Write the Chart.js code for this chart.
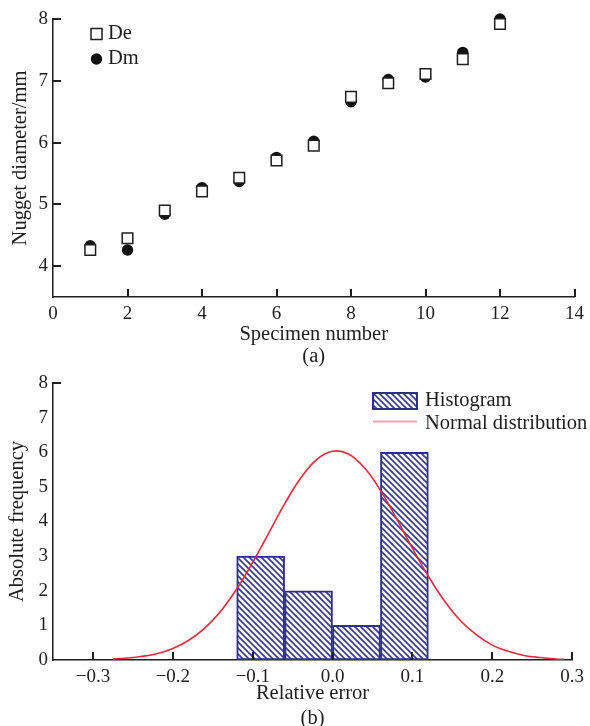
<!DOCTYPE html>
<html><head><meta charset="utf-8">
<script src="https://cdn.jsdelivr.net/npm/chart.js@4.4.0/dist/chart.umd.min.js"></script>
<style>
html,body{margin:0;padding:0;background:#fff;width:590px;height:726px;overflow:hidden;}
#c1{position:absolute;left:0;top:0;}
#c2{position:absolute;left:0;top:362px;}
</style></head><body>
<canvas id="c1" width="590" height="370"></canvas>
<canvas id="c2" width="590" height="380"></canvas>
<script>
// ---- data (a) ----
const specimens = [1,2,3,4,5,6,7,8,9,10,11,12];
const deValues  = [4.26,4.45,4.90,5.21,5.43,5.71,5.95,6.74,6.96,7.11,7.35,7.92];
const dmValues  = [4.33,4.26,4.84,5.27,5.37,5.76,6.02,6.66,7.02,7.06,7.46,8.00];
const xTicksA = [0,2,4,6,8,10,12,14];
const yTicksA = [4,5,6,7,8];
// ---- data (b) ----
const binCenters = [-0.09,-0.03,0.03,0.09];
const binCounts  = [3,2,1,6];
const curveX = [-0.275,-0.26,-0.24,-0.22,-0.20,-0.18,-0.16,-0.14,-0.12,-0.10,-0.08,-0.06,-0.04,-0.02,0.00,0.02,0.04,0.06,0.08,0.10,0.12,0.14,0.16,0.18,0.20,0.22,0.24,0.26,0.28,0.29];
const curveY = [0.03,0.05,0.10,0.18,0.33,0.57,0.92,1.41,2.05,2.82,3.66,4.51,5.25,5.79,6.03,5.95,5.55,4.90,4.09,3.23,2.42,1.71,1.14,0.73,0.43,0.25,0.13,0.07,0.03,0.02];
const xTicksB = [-0.3,-0.2,-0.1,0.0,0.1,0.2,0.3];
const yTicksB = [0,1,2,3,4,5,6,7,8];

const FONT = "'Liberation Serif','Times New Roman',serif";
const INK = '#1e1e1e';
Chart.defaults.font.family = FONT;
Chart.defaults.color = INK;

function tickMarks(xs, ys, len){
  return { id:'tickMarks', afterDraw(chart){
    const {ctx, chartArea:a} = chart; const sx = chart.scales.x, sy = chart.scales.y;
    ctx.save(); ctx.strokeStyle = INK; ctx.lineWidth = 2; ctx.beginPath();
    xs.forEach(v=>{ const p = Math.round(sx.getPixelForValue(v)); ctx.moveTo(p, a.bottom); ctx.lineTo(p, a.bottom - len); });
    ys.forEach(v=>{ const p = Math.round(sy.getPixelForValue(v)); ctx.moveTo(a.left, p); ctx.lineTo(a.left + len, p); });
    ctx.stroke(); ctx.restore();
  }};
}

function fixedScale(w, h){
  return function(scale){ if (w != null) scale.width = w; if (h != null) scale.height = h; };
}

// ---- chart (a) ----
const legendA = { id:'legendA', afterDraw(chart){
  const ctx = chart.ctx;
  ctx.save();
  ctx.fillStyle = '#fff'; ctx.strokeStyle = INK; ctx.lineWidth = 1.5;
  ctx.fillRect(91, 28.5, 11, 11); ctx.strokeRect(91, 28.5, 11, 11);
  ctx.fillStyle = '#111'; ctx.beginPath(); ctx.arc(96.5, 59, 5.7, 0, Math.PI*2); ctx.fill();
  ctx.fillStyle = INK; ctx.font = "20.5px " + FONT; ctx.textBaseline = 'middle'; ctx.textAlign = 'left';
  ctx.fillText('De', 108, 34); ctx.fillText('Dm', 108, 59);
  ctx.restore();
}};

new Chart(document.getElementById('c1'), {
  type: 'scatter',
  data: { datasets: [
    { label:'De', data: specimens.map((x,i)=>({x, y: deValues[i]})), pointStyle:'rect', pointRadius:7.5, pointBorderWidth:1.5, borderColor:INK, backgroundColor:'#fff', order:0, clip:false },
    { label:'Dm', data: specimens.map((x,i)=>({x, y: dmValues[i]})), pointStyle:'circle', pointRadius:5.7, pointBorderWidth:0, borderColor:'#111', backgroundColor:'#111', order:1, clip:false }
  ]},
  options: {
    responsive:false, animation:false, devicePixelRatio:1,
    layout:{ padding:{ top:19, right:14, left:0, bottom:0 } },
    plugins:{ legend:{display:false}, tooltip:{enabled:false} },
    scales:{
      x:{ type:'linear', min:0, max:14,
          afterBuildTicks: s => { s.ticks = xTicksA.map(v=>({value:v})); },
          afterFit: fixedScale(null, 73),
          grid:{display:false, drawTicks:false}, border:{display:true, color:INK, width:1.5},
          ticks:{ padding:6, font:{size:19}, color:INK, maxRotation:0, autoSkip:false },
          title:{ display:true, text:['Specimen number','(a)'], font:{size:20.5, lineHeight:1.1}, color:INK, padding:{top:0,bottom:1.75} } },
      y:{ type:'linear', min:3.5, max:8,
          afterBuildTicks: s => { s.ticks = yTicksA.map(v=>({value:v})); },
          afterFit: fixedScale(53, null),
          grid:{display:false, drawTicks:false}, border:{display:true, color:INK, width:1.5},
          ticks:{ padding:5, font:{size:19}, color:INK, autoSkip:false },
          title:{ display:true, text:'Nugget diameter/mm', font:{size:20.5, lineHeight:1.15}, color:INK, padding:{top:8.5,bottom:0} } }
    }
  },
  plugins:[ tickMarks(xTicksA.slice(1), yTicksA, 8), legendA ]
});

// ---- chart (b) ----
function hatchPattern(){
  const c = document.createElement('canvas'); c.width = 6; c.height = 6;
  const g = c.getContext('2d');
  g.fillStyle = '#fff'; g.fillRect(0,0,6,6);
  g.strokeStyle = '#3a3aa4'; g.lineWidth = 1.7; g.beginPath();
  g.moveTo(-1,-1); g.lineTo(7,7);
  g.moveTo(-1,5); g.lineTo(1,7);
  g.moveTo(5,-1); g.lineTo(7,1);
  g.stroke();
  return g.createPattern(c, 'repeat');
}
const hatch = hatchPattern();
const BLUE = '#2c2c96';
const RED = '#e8283c';

const legendB = { id:'legendB', afterDraw(chart){
  const ctx = chart.ctx;
  ctx.save();
  ctx.fillStyle = hatch; ctx.fillRect(373, 31, 44, 16);
  ctx.strokeStyle = BLUE; ctx.lineWidth = 2; ctx.strokeRect(373, 31, 44, 16);
  ctx.strokeStyle = '#f4a0b2'; ctx.lineWidth = 2; ctx.beginPath(); ctx.moveTo(373, 59.5); ctx.lineTo(417, 59.5); ctx.stroke();
  ctx.fillStyle = INK; ctx.font = "20.5px " + FONT; ctx.textBaseline = 'middle'; ctx.textAlign = 'left';
  ctx.fillText('Histogram', 425, 39); ctx.fillText('Normal distribution', 425, 62);
  ctx.restore();
}};

new Chart(document.getElementById('c2'), {
  type: 'bar',
  data: { datasets: [
    { type:'line', label:'Normal distribution', data: curveX.map((x,i)=>({x, y: curveY[i]})), borderColor:RED, borderWidth:1.6, pointRadius:0, fill:false, tension:0.4, order:0 },
    { type:'bar', label:'Histogram', data: binCenters.map((x,i)=>({x, y: binCounts[i]})), backgroundColor:hatch, borderColor:BLUE, borderWidth:2, borderSkipped:false, barPercentage:1, categoryPercentage:1, grouped:false, order:1 }
  ]},
  options: {
    responsive:false, animation:false, devicePixelRatio:1,
    layout:{ padding:{ top:21, right:14, left:0, bottom:0 } },
    plugins:{ legend:{display:false}, tooltip:{enabled:false} },
    scales:{
      x:{ type:'linear', min:-0.35, max:0.3, offset:false,
          afterBuildTicks: s => { s.ticks = xTicksB.map(v=>({value:v})); },
          afterFit: fixedScale(null, 82),
          grid:{display:false, drawTicks:false}, border:{display:true, color:INK, width:1.5},
          ticks:{ padding:6, font:{size:19}, color:INK, maxRotation:0, autoSkip:false,
                  callback: v => (Math.abs(v) < 1e-9 ? '0.0' : v.toFixed(1).replace('-', '\u2212')) },
          title:{ display:true, text:['Relative error','(b)'], font:{size:20.5, lineHeight:1.2}, color:INK, padding:{top:0,bottom:11.5} } },
      y:{ type:'linear', min:0, max:8,
          afterBuildTicks: s => { s.ticks = yTicksB.map(v=>({value:v})); },
          afterFit: fixedScale(53, null),
          grid:{display:false, drawTicks:false}, border:{display:true, color:INK, width:1.5},
          ticks:{ padding:5, font:{size:19}, color:INK, autoSkip:false },
          title:{ display:true, text:'Absolute frequency', font:{size:20.5, lineHeight:1.15}, color:INK, padding:{top:5.5,bottom:0} } }
    }
  },
  plugins:[ tickMarks(xTicksB, [8], 8), legendB ]
});
</script>
</body></html>
